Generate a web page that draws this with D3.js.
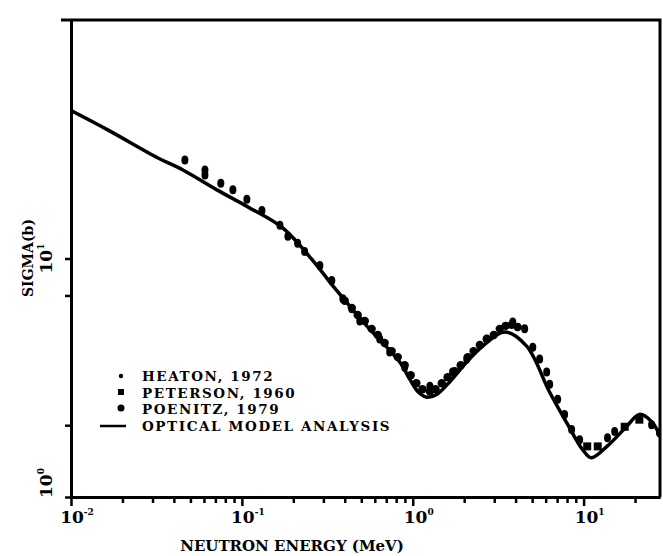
<!DOCTYPE html>
<html>
<head>
<meta charset="utf-8">
<script src="https://cdnjs.cloudflare.com/ajax/libs/d3/7.8.5/d3.min.js"></script>
<style>
	body { margin: 0; background: #fff; }
	text { font-family: "DejaVu Serif", serif; font-weight: bold; fill: #000; }
</style>
</head>
<body>
<div class="svg-div"></div>
<script>
// optical model curve (MeV, barns)
var modelEnergy = [0.01, 0.0163, 0.0323, 0.0452, 0.0714, 0.111, 0.174, 0.275, 0.34, 0.538, 0.84, 0.96, 1.07, 1.21, 1.38, 1.64, 2.07, 2.57, 3.45, 4.64, 6.33, 7.96, 9.87, 11.1, 13.7, 17.8, 21.2, 25.3, 29];
var modelSigma = [41.7, 34.7, 26.4, 23.5, 19.4, 16.3, 13.4, 9.34, 7.69, 5.22, 3.68, 3.12, 2.77, 2.62, 2.69, 3.03, 3.68, 4.29, 4.92, 4.29, 2.75, 2.05, 1.58, 1.46, 1.63, 1.97, 2.22, 2.05, 1.69];

// measured points
var heatonEnergy = [0.40, 0.44, 0.476, 0.524, 0.575, 0.624, 0.685, 0.753, 0.817, 0.897, 0.973, 1.05, 1.14, 1.26, 1.36, 1.48, 1.60, 1.76, 1.91, 2.10, 2.27, 2.47, 2.71, 2.98, 3.23, 3.50, 3.79, 4.11];
var heatonSigma = [6.65, 6.21, 5.80, 5.47, 5.07, 4.78, 4.42, 4.09, 3.86, 3.57, 3.24, 3.00, 2.83, 2.77, 2.83, 3.00, 3.18, 3.37, 3.57, 3.86, 4.09, 4.34, 4.60, 4.78, 5.07, 5.22, 5.27, 5.16];

var petersonEnergy = [10.5, 12.1, 17.4, 21.2];
var petersonSigma = [1.63, 1.63, 1.97, 2.11];

var poenitzEnergy = [0.0464, 0.0608, 0.0608, 0.0753, 0.0886, 0.107, 0.131, 0.167, 0.186, 0.212, 0.233, 0.286, 0.336, 0.39, 0.44, 0.49, 0.641, 0.733, 0.897, 1.26, 1.71, 2.07, 2.71, 3.85, 4.52, 5.04, 5.53, 6.08, 6.33, 7.05, 7.74, 8.51, 9.48, 13.8, 15.2, 25.0, 27.8];
var poenitzSigma = [25.9, 23.5, 22.4, 20.7, 19.4, 17.7, 15.9, 13.8, 12.4, 11.6, 10.7, 9.34, 8.08, 6.78, 6.15, 5.47, 4.60, 4.05, 3.50, 2.91, 3.34, 3.79, 4.60, 5.42, 5.07, 4.25, 3.79, 3.34, 2.97, 2.57, 2.22, 1.92, 1.74, 1.77, 1.88, 2.01, 1.86];

var legendLabels = ["HEATON, 1972", "PETERSON, 1960", "POENITZ, 1979", "OPTICAL MODEL ANALYSIS"];

var xTickValues = [0.01, 0.1, 1, 10];
var xTickExp = ["-2", "-1", "0", "1"];
var yTickValues = [1, 10];
var yTickExp = ["0", "1"];
var yMinorTicks = [2, 7];

var xTitle = "NEUTRON ENERGY (MeV)";
var yTitle = "SIGMA(b)";

// sizes
var w = 663;
var h = 556;
var pLeft = 71, pRight = 660, pTop = 20, pBottom = 497;

var svg = d3.select(".svg-div")
	.append("svg")
	.attr("width", w)
	.attr("height", h);

var x = d3.scaleLog().domain([0.01, 28]).range([pLeft, pRight]);
var y = d3.scaleLog().domain([1, 100]).range([pBottom, pTop]);

svg.append("clipPath")
	.attr("id", "plot-clip")
	.append("rect")
	.attr("x", pLeft)
	.attr("y", pTop)
	.attr("width", pRight - pLeft)
	.attr("height", pBottom - pTop);

// minor x ticks 2..9 per decade
var xMinor = [];
[0.01, 0.1, 1, 10].forEach(function(dec) {
	for (var k = 2; k <= 9; k++) {
		if (dec * k < 28) xMinor.push(dec * k);
	}
});

svg.append("g")
	.attr("transform", "translate(0," + pBottom + ")")
	.call(d3.axisBottom(x).tickValues(xMinor).tickSize(6).tickSizeOuter(0).tickFormat(""));

svg.append("g")
	.attr("transform", "translate(0," + pBottom + ")")
	.call(d3.axisBottom(x).tickValues(xTickValues).tickSize(9).tickSizeOuter(0).tickFormat(""));

svg.append("g")
	.attr("transform", "translate(" + pLeft + ",0)")
	.call(d3.axisLeft(y).tickValues(yTickValues.concat(yMinorTicks)).tickSize(6).tickSizeOuter(0).tickFormat(""));

svg.selectAll(".domain").attr("stroke", "#000").attr("stroke-width", 3);
svg.selectAll(".tick line").attr("stroke", "#000").attr("stroke-width", 2.5);

// top and right edges of frame
svg.append("path")
	.attr("d", "M" + (pLeft - 10) + "," + pTop + "H" + pRight + "V" + pBottom)
	.attr("fill", "none")
	.attr("stroke", "#000")
	.attr("stroke-width", 3);

// x tick labels
var xLab = svg.selectAll(".xlab")
	.data(xTickValues)
	.enter()
	.append("text")
	.attr("class", "xlab")
	.attr("x", function(d) { return x(d) + 6; })
	.attr("y", 523)
	.attr("text-anchor", "middle")
	.attr("font-size", 17);
xLab.append("tspan").text("10");
xLab.append("tspan")
	.attr("dy", -8)
	.attr("font-size", 9)
	.text(function(d, i) { return xTickExp[i]; });

// y tick labels (rotated)
var yLab = svg.selectAll(".ylab")
	.data(yTickValues)
	.enter()
	.append("text")
	.attr("class", "ylab")
	.attr("transform", function(d, i) {
		var yy = i == 0 ? y(d) - 14 : y(d);
		return "translate(52," + yy + ") rotate(-90)";
	})
	.attr("text-anchor", "middle")
	.attr("font-size", 17);
yLab.append("tspan").text("10");
yLab.append("tspan")
	.attr("dy", -8)
	.attr("font-size", 9)
	.text(function(d, i) { return yTickExp[i]; });

// axis titles
svg.append("text")
	.attr("x", 292)
	.attr("y", 551)
	.attr("text-anchor", "middle")
	.attr("font-size", 15)
	.text(xTitle);

svg.append("text")
	.attr("transform", "translate(33,258) rotate(-90)")
	.attr("text-anchor", "middle")
	.attr("font-size", 14)
	.text(yTitle);

var plot = svg.append("g").attr("clip-path", "url(#plot-clip)");

// model curve
var modelData = modelEnergy.map(function(e, i) { return [e, modelSigma[i]]; });
var line = d3.line()
	.x(function(d) { return x(d[0]); })
	.y(function(d) { return y(d[1]); })
	.curve(d3.curveCatmullRom);

plot.append("path")
	.datum(modelData)
	.attr("d", line)
	.attr("fill", "none")
	.attr("stroke", "#000")
	.attr("stroke-width", 3.5);

// data points
plot.selectAll(".heaton")
	.data(heatonEnergy)
	.enter()
	.append("circle")
	.attr("class", "heaton")
	.attr("cx", function(d) { return x(d); })
	.attr("cy", function(d, i) { return y(heatonSigma[i]); })
	.attr("r", 4.2)
	.attr("fill", "#000");

plot.selectAll(".peterson")
	.data(petersonEnergy)
	.enter()
	.append("rect")
	.attr("class", "peterson")
	.attr("x", function(d) { return x(d) - 4; })
	.attr("y", function(d, i) { return y(petersonSigma[i]) - 4; })
	.attr("width", 8)
	.attr("height", 8)
	.attr("fill", "#000");

plot.selectAll(".poenitz")
	.data(poenitzEnergy)
	.enter()
	.append("ellipse")
	.attr("class", "poenitz")
	.attr("cx", function(d) { return x(d); })
	.attr("cy", function(d, i) { return y(poenitzSigma[i]); })
	.attr("rx", 3.5)
	.attr("ry", 4.5)
	.attr("fill", "#000");

// legend
var lg = svg.append("g");
lg.append("circle").attr("cx", 121).attr("cy", 376).attr("r", 2.2).attr("fill", "#000");
lg.append("rect").attr("x", 118).attr("y", 389).attr("width", 6).attr("height", 6).attr("fill", "#000");
lg.append("circle").attr("cx", 121).attr("cy", 408).attr("r", 3.5).attr("fill", "#000");
lg.append("line").attr("x1", 100).attr("x2", 126).attr("y1", 426).attr("y2", 426)
	.attr("stroke", "#000").attr("stroke-width", 2.5);

lg.selectAll(".lt")
	.data(legendLabels)
	.enter()
	.append("text")
	.attr("class", "lt")
	.attr("x", 142)
	.attr("y", function(d, i) { return 381 + i * 16.5; })
	.attr("font-size", 13.5)
	.attr("letter-spacing", 1.6)
	.text(function(d) { return d; });
</script>
</body>
</html>
